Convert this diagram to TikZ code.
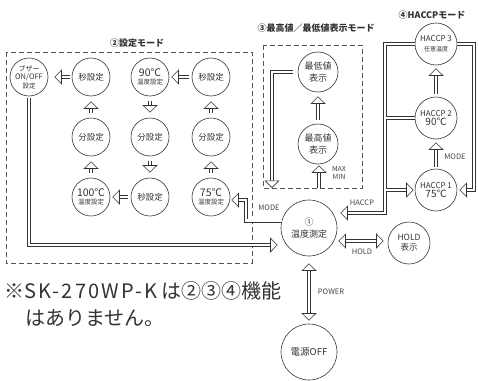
\documentclass[tikz,border=0pt]{standalone}
\usepackage{fontspec}
\setmainfont{Noto Sans CJK JP}
\usetikzlibrary{arrows.meta,positioning}
\definecolor{ink}{HTML}{333333}
\definecolor{boxgray}{HTML}{555555}
\definecolor{lblgray}{HTML}{444444}
\newcommand{\fsz}[1]{\fontsize{#1}{#1}\selectfont}
\newcommand{\tempc}[1]{{\fsz{10.5}#1℃}\\[-1pt]{\fsz{6.5}温度設定}}
\tikzset{
  setnode/.style={draw=ink, line width=0.6pt, circle, minimum size=38pt, inner sep=0pt, align=center, text=ink, font=\fsz{8.5}},
  valnode/.style={setnode, minimum size=40pt, font=\fontsize{9}{11.5}\selectfont},
  haccpnode/.style={setnode, minimum size=42pt},
  holdnode/.style={setnode, minimum size=42pt, font=\fontsize{8.5}{10}\selectfont},
  bignode/.style={setnode, minimum size=56pt, font=\fontsize{9}{12}\selectfont},
  modebox/.style={draw=boxgray, line width=0.7pt, dash pattern=on 5pt off 3pt},
  title/.style={text=ink, font=\fsz{9}\bfseries},
  lbl/.style={text=lblgray, font=\fontsize{7.5}{8}\selectfont, inner sep=1pt},
  note/.style={text=ink, font=\fontsize{20}{27}\selectfont, inner sep=0pt},
  hollow/.style={draw=ink, line width=0.6pt, double=white, double distance=2.9pt,
    -{Triangle[fill=white, line width=0.6pt, length=7.5pt, width=15pt]},
    shorten <=2pt, shorten >=2pt},
  hollowboth/.style={hollow, {Triangle[fill=white, line width=0.6pt, length=7.5pt, width=15pt]}-{Triangle[fill=white, line width=0.6pt, length=7.5pt, width=15pt]}}
}
\begin{document}
\begin{tikzpicture}[x=1pt, y=-1pt]
  \useasboundingbox (0,0) rectangle (478,380);

  % mode boxes and titles
  \draw[modebox] (6,52) rectangle (252,263);
  \draw[modebox] (263,45) rectangle (362,188);
  \node[title] (title2) at (137,43) {②設定モード};
  \node[title] (title3) at (316,28) {③最高値／最低値表示モード};
  \node[title] (title4) at (432,15) {④HACCPモード};

  % setting mode
  \node[setnode] (buzzer) at (29,77) {{\fsz{7}ブザー}\\{\fsz{7.5}ON/OFF}\\{\fsz{6.5}設定}};
  \node[setnode] (sec1) at (91,77) {秒設定};
  \node[setnode] (t90) at (150,77) {\tempc{90}};
  \node[setnode] (sec2) at (211,77) {秒設定};
  \node[setnode] (min1) at (91,137) {分設定};
  \node[setnode] (min2) at (150,137) {分設定};
  \node[setnode] (min3) at (211,137) {分設定};
  \node[setnode] (t100) at (91,197) {\tempc{100}};
  \node[setnode] (sec3) at (150,197) {秒設定};
  \node[setnode] (t75) at (211,197) {\tempc{75}};

  \draw[hollow, shorten >=6pt] (sec1) -- (buzzer);
  \draw[hollow, shorten <=3pt] (sec2) -- (t90);
  \draw[hollow, shorten <=3pt] (sec3) -- (t100);
  \draw[hollow, shorten <=5pt, shorten >=5pt] (min1) -- (sec1);
  \draw[hollow, shorten <=5pt, shorten >=5pt] (t100) -- (min1);
  \draw[hollow, shorten <=5pt, shorten >=5pt] (t90) -- (min2);
  \draw[hollow, shorten <=5pt, shorten >=5pt] (min2) -- (sec3);
  \draw[hollow, shorten <=5pt, shorten >=5pt] (min3) -- (sec2);
  \draw[hollow, shorten <=5pt, shorten >=5pt] (t75) -- (min3);

  % max / min mode
  \node[valnode] (minv) at (318,72) {最低値\\表示};
  \node[valnode] (maxv) at (318,144) {最高値\\表示};
  \coordinate (mmin) at (319,188);
  \coordinate (mdown) at (272,188);
  \draw[hollow, shorten <=4pt, shorten >=4pt] (maxv) -- (minv);
  \draw[hollow, shorten <=0pt, shorten >=1pt] (mmin) -- (maxv.south -| mmin);
  \draw[hollow, shorten <=5pt, shorten >=0pt] (minv.west) -- (minv.west -| mdown) -- (mdown);
  \node[lbl, align=center, font=\fontsize{7}{8.5}\selectfont] (lmaxmin) at (339,173) {MAX\\MIN};

  % HACCP mode
  \node[haccpnode] (h3) at (436,44) {{\fsz{8}HACCP 3}\\[1pt]{\fsz{6}任意温度}};
  \node[haccpnode] (h2) at (436,118) {{\fsz{8}HACCP 2}\\[1pt]{\fsz{10}90℃}};
  \node[haccpnode] (h1) at (436,190) {{\fsz{8}HACCP 1}\\[1pt]{\fsz{10}75℃}};
  \draw[hollow, shorten <=3pt, shorten >=3pt] (h2) -- (h3);
  \draw[hollow, shorten <=2pt, shorten >=3pt] (h1) -- (h2);
  \node[lbl] (lmode2) at (455,157) {MODE};

  % measuring, hold, power off
  \node[bignode] (temp) at (309,228) {①\\温度測定};
  \node[holdnode] (hold) at (409,243) {HOLD\\表示};
  \node[bignode, font=\fsz{9.5}] (off) at (309,352) {電源OFF};

  \draw[hollow, shorten <=2pt, shorten >=3pt] (buzzer.south) -- (buzzer.south |- 0,245) -- (temp.west |- 0,245);
  \draw[hollow, shorten <=0pt, shorten >=1pt] (temp.165) -| (246,200) -- (t75.east |- 0,200);
  \node[lbl] (lmode) at (269,208) {MODE};

  % left HACCP bracket, arrow tips only on the last piece
  \draw[hollowboth, shorten <=1pt, shorten >=3pt]
    (h3.west) -- (h3.west -| 385,0) -- (h1.west -| 385,0)
    (h2.west) -- (h2.west -| 385,0)
    (h1.west) -- (h1.west -| 385,0) -- (385,213) -- (temp.east |- 0,213);
  \node[lbl] (lhaccp) at (362,203) {HACCP};
  \draw[hollow, shorten <=0pt, shorten >=2pt] (h3.east) -- (h3.east -| 474,0) -- (474,190) -- (h1.east);

  \draw[hollowboth, shorten <=1pt, shorten >=4pt] (temp.east |- 0,241) -- (hold.west |- 0,241);
  \node[lbl] (lhold) at (362,252) {HOLD};
  \draw[hollowboth, shorten <=7pt, shorten >=3pt] (temp.south) -- (off.north);
  \node[lbl] (lpower) at (331,292) {POWER};

  % note
  \node[note, anchor=north west, align=left] (note) at (4,281)
    {※{\addfontfeature{LetterSpace=11}SK-270WP-K}\hspace{4pt}は②③④機能\\\hspace*{1.05em}はありません。};
\end{tikzpicture}
\end{document}
